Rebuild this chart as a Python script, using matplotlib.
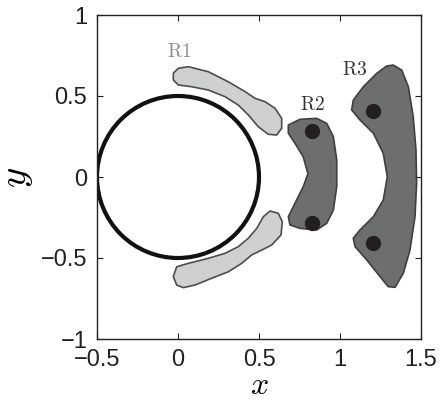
import matplotlib
matplotlib.use("Agg")
import matplotlib.pyplot as plt
from matplotlib.patches import Polygon, Circle
import numpy as np

plt.rcParams['font.family'] = ['Liberation Sans', 'DejaVu Sans']
plt.rcParams['mathtext.fontset'] = 'cm'

# region outlines (x, y)
r1_top_x = [0.002, 0.064, 0.187, 0.310, 0.414, 0.475, 0.537, 0.599, 0.640, 0.640, 0.609, 0.557,
            0.496, 0.434, 0.372, 0.290, 0.187, 0.085, 0.002, -0.029, -0.029]
r1_top_y = [0.671, 0.681, 0.650, 0.588, 0.527, 0.486, 0.465, 0.424, 0.362, 0.301, 0.259, 0.264,
            0.310, 0.383, 0.444, 0.496, 0.537, 0.557, 0.568, 0.599, 0.640]

r1_bot_x = [0.568, 0.619, 0.644, 0.636, 0.578, 0.517, 0.455, 0.393, 0.311, 0.208, 0.105, 0.033,
            -0.008, -0.029, -0.008, 0.064, 0.187, 0.290, 0.372, 0.434, 0.486, 0.527]
r1_bot_y = [-0.210, -0.224, -0.276, -0.358, -0.420, -0.451, -0.481, -0.533, -0.585, -0.625, -0.667, -0.683,
            -0.667, -0.615, -0.554, -0.533, -0.502, -0.471, -0.430, -0.378, -0.317, -0.245]

r2_x = [0.681, 0.753, 0.856, 0.918, 0.959, 0.980, 0.980, 0.959, 0.918, 0.856, 0.753, 0.691,
        0.681, 0.722, 0.773, 0.802, 0.773, 0.722, 0.681]
r2_y = [0.321, 0.356, 0.362, 0.331, 0.249, 0.105, -0.060, -0.204, -0.286, -0.327, -0.317, -0.296,
        -0.245, -0.162, -0.060, 0.020, 0.125, 0.208, 0.270]

r3_x = [1.329, 1.381, 1.422, 1.452, 1.469, 1.473, 1.463, 1.432, 1.391, 1.340, 1.298, 1.247, 1.165,
        1.093, 1.082, 1.123, 1.206, 1.267, 1.292, 1.267, 1.206, 1.123, 1.072, 1.082, 1.144, 1.227, 1.288]
r3_y = [0.691, 0.660, 0.557, 0.372, 0.167, -0.039, -0.245, -0.451, -0.594, -0.681, -0.677, -0.615, -0.512,
        -0.430, -0.378, -0.327, -0.245, -0.142, 0.002, 0.146, 0.270, 0.352, 0.414, 0.475, 0.557, 0.640, 0.685]

# equilibrium points
pts_x = [0.825, 0.825, 1.205, 1.205]
pts_y = [0.284, -0.284, 0.410, -0.410]

labels = ['R1', 'R2', 'R3']
label_x = [0.006, 0.833, 1.093]
label_y = [0.773, 0.444, 0.660]
label_colors = ['#8c8c8c', '#333333', '#333333']

fig = plt.figure(figsize=(4.4, 4.01), dpi=100)
ax = fig.add_axes([97 / 440, 62 / 401, 324 / 440, 324 / 401])

light = dict(facecolor='#cfd1d1', edgecolor='#4d4d4f', linewidth=1.2, joinstyle='round')
dark = dict(facecolor='#6d6e70', edgecolor='#3f3f41', linewidth=1.2, joinstyle='round')

ax.add_patch(Polygon(np.column_stack([r1_top_x, r1_top_y]), closed=True, **light))
ax.add_patch(Polygon(np.column_stack([r1_bot_x, r1_bot_y]), closed=True, **light))
ax.add_patch(Polygon(np.column_stack([r2_x, r2_y]), closed=True, **dark))
ax.add_patch(Polygon(np.column_stack([r3_x, r3_y]), closed=True, **dark))

ax.add_patch(Circle((0, 0), 0.5, fill=False, edgecolor='#111111', linewidth=3))

ax.plot(pts_x, pts_y, 'o', color='#231f20', markersize=10, zorder=5)

for lab, lx, ly, c in zip(labels, label_x, label_y, label_colors):
    ax.text(lx, ly, r'$\mathrm{%s}$' % lab, color=c, fontsize=14, ha='center', va='center')

ax.set_xlim(-0.5, 1.5)
ax.set_ylim(-1, 1)
ax.set_xticks([-0.5, 0, 0.5, 1, 1.5])
ax.set_yticks([-1, -0.5, 0, 0.5, 1])
ax.set_xticklabels(['\u22120.5', '0', '0.5', '1', '1.5'])
ax.set_yticklabels(['\u22121', '\u22120.5', '0', '0.5', '1'])
ax.tick_params(direction='in', length=4, width=0.8, top=True, right=True,
               labelsize=17, colors='#222222')
ax.tick_params(axis='x', pad=7)
ax.tick_params(axis='y', pad=7)
for s in ax.spines.values():
    s.set_linewidth(1.0)
    s.set_color('#222222')

ax.set_xlabel(r'$x$', fontsize=23)
ax.set_ylabel(r'$y$', fontsize=28)
ax.xaxis.set_label_coords(0.5, -0.1)
ax.yaxis.set_label_coords(-0.19, 0.5)

fig.savefig('out.png', dpi=100)
